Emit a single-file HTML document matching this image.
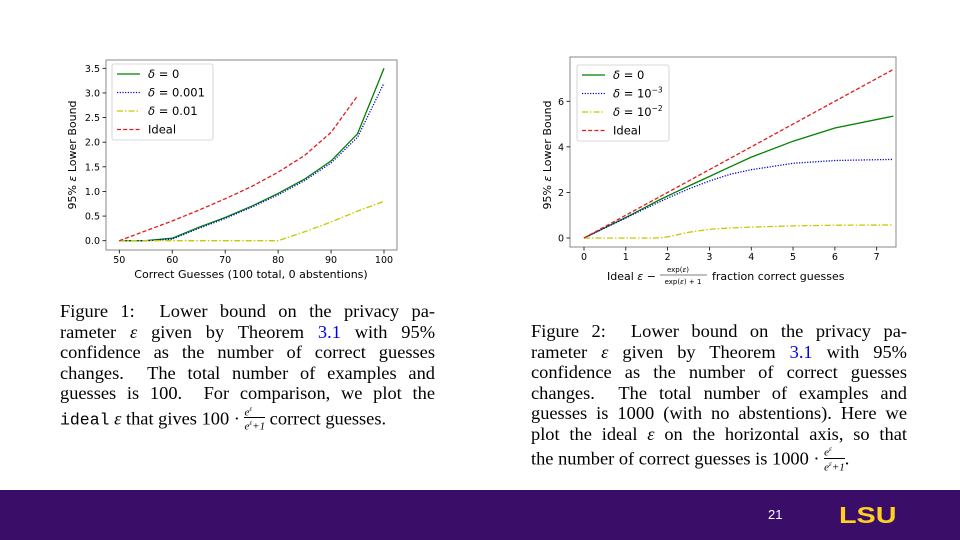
<!DOCTYPE html>
<html><head><meta charset="utf-8">
<style>
body{margin:0;width:960px;height:540px;position:relative;background:#fff;overflow:hidden;font-family:"Liberation Serif",serif;}
.cap{position:absolute;font-size:18.4px;line-height:20.5px;color:#000;}
.ln{display:block;text-align:justify;text-align-last:justify;white-space:nowrap;height:20.5px}
.ln.last{text-align-last:left}
.tt{font-family:"Liberation Mono",monospace;font-size:16.5px}
.blue{color:#0000ee}
.frac{display:inline-block;vertical-align:-6px;text-align:center;font-size:11px;line-height:10px;font-style:italic}
.frac span{display:block}
.frac .den{border-top:1px solid #000}
svg text{font-family:"DejaVu Sans",sans-serif;}
</style></head><body>
<svg id="c1" width="960" height="290" style="position:absolute;left:0;top:0"></svg>
<div class="cap" style="left:60px;top:301px;width:375px">
<span class="ln">Figure 1:&nbsp; Lower bound on the privacy pa-</span>
<span class="ln">rameter <i>ε</i> given by Theorem <span class="blue">3.1</span> with 95%</span>
<span class="ln">confidence as the number of correct guesses</span>
<span class="ln">changes.&nbsp; The total number of examples and</span>
<span class="ln">guesses is 100.&nbsp; For comparison, we plot the</span>
<span class="ln last"><span class="tt">ideal</span> <i>ε</i> that gives 100 · <span class="frac"><span>e<sup style="font-size:7px">ε</sup></span><span class="den">e<sup style="font-size:7px">ε</sup>+1</span></span> correct guesses.</span>
</div>
<div class="cap" style="left:531px;top:321px;width:376px">
<span class="ln">Figure 2:&nbsp; Lower bound on the privacy pa-</span>
<span class="ln">rameter <i>ε</i> given by Theorem <span class="blue">3.1</span> with 95%</span>
<span class="ln">confidence as the number of correct guesses</span>
<span class="ln">changes.&nbsp; The total number of examples and</span>
<span class="ln">guesses is 1000 (with no abstentions). Here we</span>
<span class="ln">plot the ideal <i>ε</i> on the horizontal axis, so that</span>
<span class="ln last">the number of correct guesses is 1000 · <span class="frac"><span>e<sup style="font-size:7px">ε</sup></span><span class="den">e<sup style="font-size:7px">ε</sup>+1</span></span>.</span>
</div>
<div style="position:absolute;left:0;top:490px;width:960px;height:50px;background:#3a0d69"></div>
<div style="position:absolute;left:768px;top:507px;color:#fff;font-family:'Liberation Sans',sans-serif;font-size:13px">21</div>
<div style="position:absolute;left:839px;top:502px;color:#fdd023;font-family:'Liberation Sans',sans-serif;font-weight:bold;font-size:23px;letter-spacing:0px;transform:scaleX(1.25);transform-origin:left">LSU</div>
<script>
const NS="http://www.w3.org/2000/svg";
// left chart data
const xL=[50,55,60,65,70,75,80,85,90,95,100];
const d0L=[0,0,0.05,0.27,0.47,0.7,0.96,1.25,1.62,2.17,3.5];
const d1L=[0,0,0.03,0.25,0.45,0.68,0.93,1.22,1.58,2.1,3.2];
const d2L=[0,0,0,0,0,0,0,0.18,0.38,0.6,0.8];
const xIdealL=[50,55,60,65,70,75,80,85,90,95];
const idealL=[0,0.2,0.4,0.62,0.85,1.1,1.39,1.73,2.2,2.94];
const xTicksL=[50,60,70,80,90,100];
const yTicksL=[0,0.5,1,1.5,2,2.5,3,3.5];
// right chart data
const xR=[0,0.5,1,1.5,1.8,2,2.5,3,3.5,4,5,6,7.4];
const d0R=[0,0.45,0.9,1.38,1.67,1.85,2.28,2.7,3.13,3.55,4.25,4.83,5.35];
const d1R=[0,0.44,0.88,1.32,1.58,1.75,2.15,2.5,2.8,3.0,3.28,3.4,3.45];
const d2R=[0,0,0,0,0,0.05,0.25,0.38,0.44,0.48,0.53,0.56,0.57];
const xIdealR=[0,7.4];
const idealR=[0,7.4];
const xTicksR=[0,1,2,3,4,5,6,7];
const yTicksR=[0,2,4,6];

const svg=document.getElementById('c1');
function el(t,a,p){const e=document.createElementNS(NS,t);for(const k in a)e.setAttribute(k,a[k]);(p||svg).appendChild(e);return e;}
const styles=[{stroke:"#008000",dash:"none"},{stroke:"#0000cc",dash:"1.2,1.5"},{stroke:"#c8c800",dash:"6,2,1.5,2"},{stroke:"#e31a1c",dash:"4,2.2"}];

function chart(cfg){
  const {L,R,T,B,x0,x1,px0,px1,y0,y1,py0,py1}=cfg;
  const sx=v=>px0+(v-x0)/(x1-x0)*(px1-px0);
  const sy=v=>py0+(v-y0)/(y1-y0)*(py1-py0);
  const frame=el('rect',{x:L,y:T,width:R-L,height:B-T,fill:'none',stroke:'#888','stroke-width':1});
  
  
  cfg.xt.forEach(v=>{
    el('line',{x1:sx(v),x2:sx(v),y1:B,y2:B+3.5,stroke:'#000','stroke-width':0.8});
    const t=el('text',{x:sx(v),y:B+13,'font-size':9.5,'text-anchor':'middle'});t.textContent=cfg.xfmt(v);
    
    
  });
  cfg.yt.forEach(v=>{
    el('line',{x1:L-3.5,x2:L,y1:sy(v),y2:sy(v),stroke:'#000','stroke-width':0.8});
    const t=el('text',{x:L-6,y:sy(v)+3.5,'font-size':9.5,'text-anchor':'end'});t.textContent=cfg.yfmt(v);
    
    
  });
  cfg.series.forEach((s,i)=>{
    const st=styles[i];
    const pts=s.x.map((v,j)=>sx(v).toFixed(1)+','+sy(s.y[j]).toFixed(1)).join(' ');
    const p=el('polyline',{points:pts,fill:'none',stroke:st.stroke,'stroke-width':1.3,'stroke-dasharray':st.dash});
    
    
  });
  const g=el('g',{});
  
  
  el('rect',{x:cfg.lx,y:cfg.ly,width:cfg.lw,height:76,rx:2,fill:'#fff',stroke:'#ccc','stroke-width':0.8},g);
  cfg.labels.forEach((lab,i)=>{
    const y=cfg.ly+10+i*18.5;
    const st=styles[i];
    el('line',{x1:cfg.lx+5,x2:cfg.lx+28,y1:y,y2:y,stroke:st.stroke,'stroke-width':1.3,'stroke-dasharray':st.dash},g);
    const t=el('text',{x:cfg.lx+36,y:y+4,'font-size':11.5},g);t.innerHTML=lab;
    
    
  });
}
chart({name:'left',L:106,R:397,T:60,B:250,x0:50,x1:100,px0:119.3,px1:384,y0:0,y1:3.5,py0:240.7,py1:68.3,
  xt:xTicksL,yt:yTicksL,xfmt:v=>v,yfmt:v=>v.toFixed(1),
  series:[{n:'delta-0',x:xL,y:d0L},{n:'delta-0.001',x:xL,y:d1L},{n:'delta-0.01',x:xL,y:d2L},{n:'ideal',x:xIdealL,y:idealL}],
  lx:112,ly:64,lw:101,labels:['<tspan font-style="italic">δ</tspan> = 0','<tspan font-style="italic">δ</tspan> = 0.001','<tspan font-style="italic">δ</tspan> = 0.01','Ideal']});
chart({name:'right',L:570,R:896,T:57,B:247,x0:0,x1:7,px0:584,px1:876.7,y0:0,y1:6,py0:238,py1:101.3,
  xt:xTicksR,yt:yTicksR,xfmt:v=>v,yfmt:v=>v,
  series:[{n:'delta-0',x:xR,y:d0R},{n:'delta-1e-3',x:xR,y:d1R},{n:'delta-1e-2',x:xR,y:d2R},{n:'ideal',x:xIdealR,y:idealR}],
  lx:577,ly:65,lw:92,labels:['<tspan font-style="italic">δ</tspan> = 0','<tspan font-style="italic">δ</tspan> = 10<tspan font-size="7.5" dy="-5">−3</tspan>','<tspan font-style="italic">δ</tspan> = 10<tspan font-size="7.5" dy="-5">−2</tspan>','Ideal']});
let t=el('text',{x:251,y:278,'font-size':11,'text-anchor':'middle'});t.textContent='Correct Guesses (100 total, 0 abstentions)';


t=el('text',{x:0,y:0,'font-size':11,'text-anchor':'middle',transform:'translate(76,155) rotate(-90)'});t.innerHTML='95% <tspan font-style="italic">ε</tspan> Lower Bound';


t=el('text',{x:0,y:0,'font-size':11,'text-anchor':'middle',transform:'translate(551,155) rotate(-90)'});t.innerHTML='95% <tspan font-style="italic">ε</tspan> Lower Bound';


t=el('text',{x:607,y:280,'font-size':11});t.innerHTML='Ideal <tspan font-style="italic">ε</tspan> −';


const f1=el('text',{x:678,y:272,'font-size':7,'text-anchor':'middle'});f1.innerHTML='exp(<tspan font-style="italic">ε</tspan>)';
el('line',{x1:660,x2:707,y1:275,y2:275,stroke:'#000','stroke-width':0.6});
const f2=el('text',{x:683,y:284,'font-size':7,'text-anchor':'middle'});f2.innerHTML='exp(<tspan font-style="italic">ε</tspan>) + 1';
t=el('text',{x:712,y:280,'font-size':11});t.textContent='fraction correct guesses';


</script>
</body></html>
